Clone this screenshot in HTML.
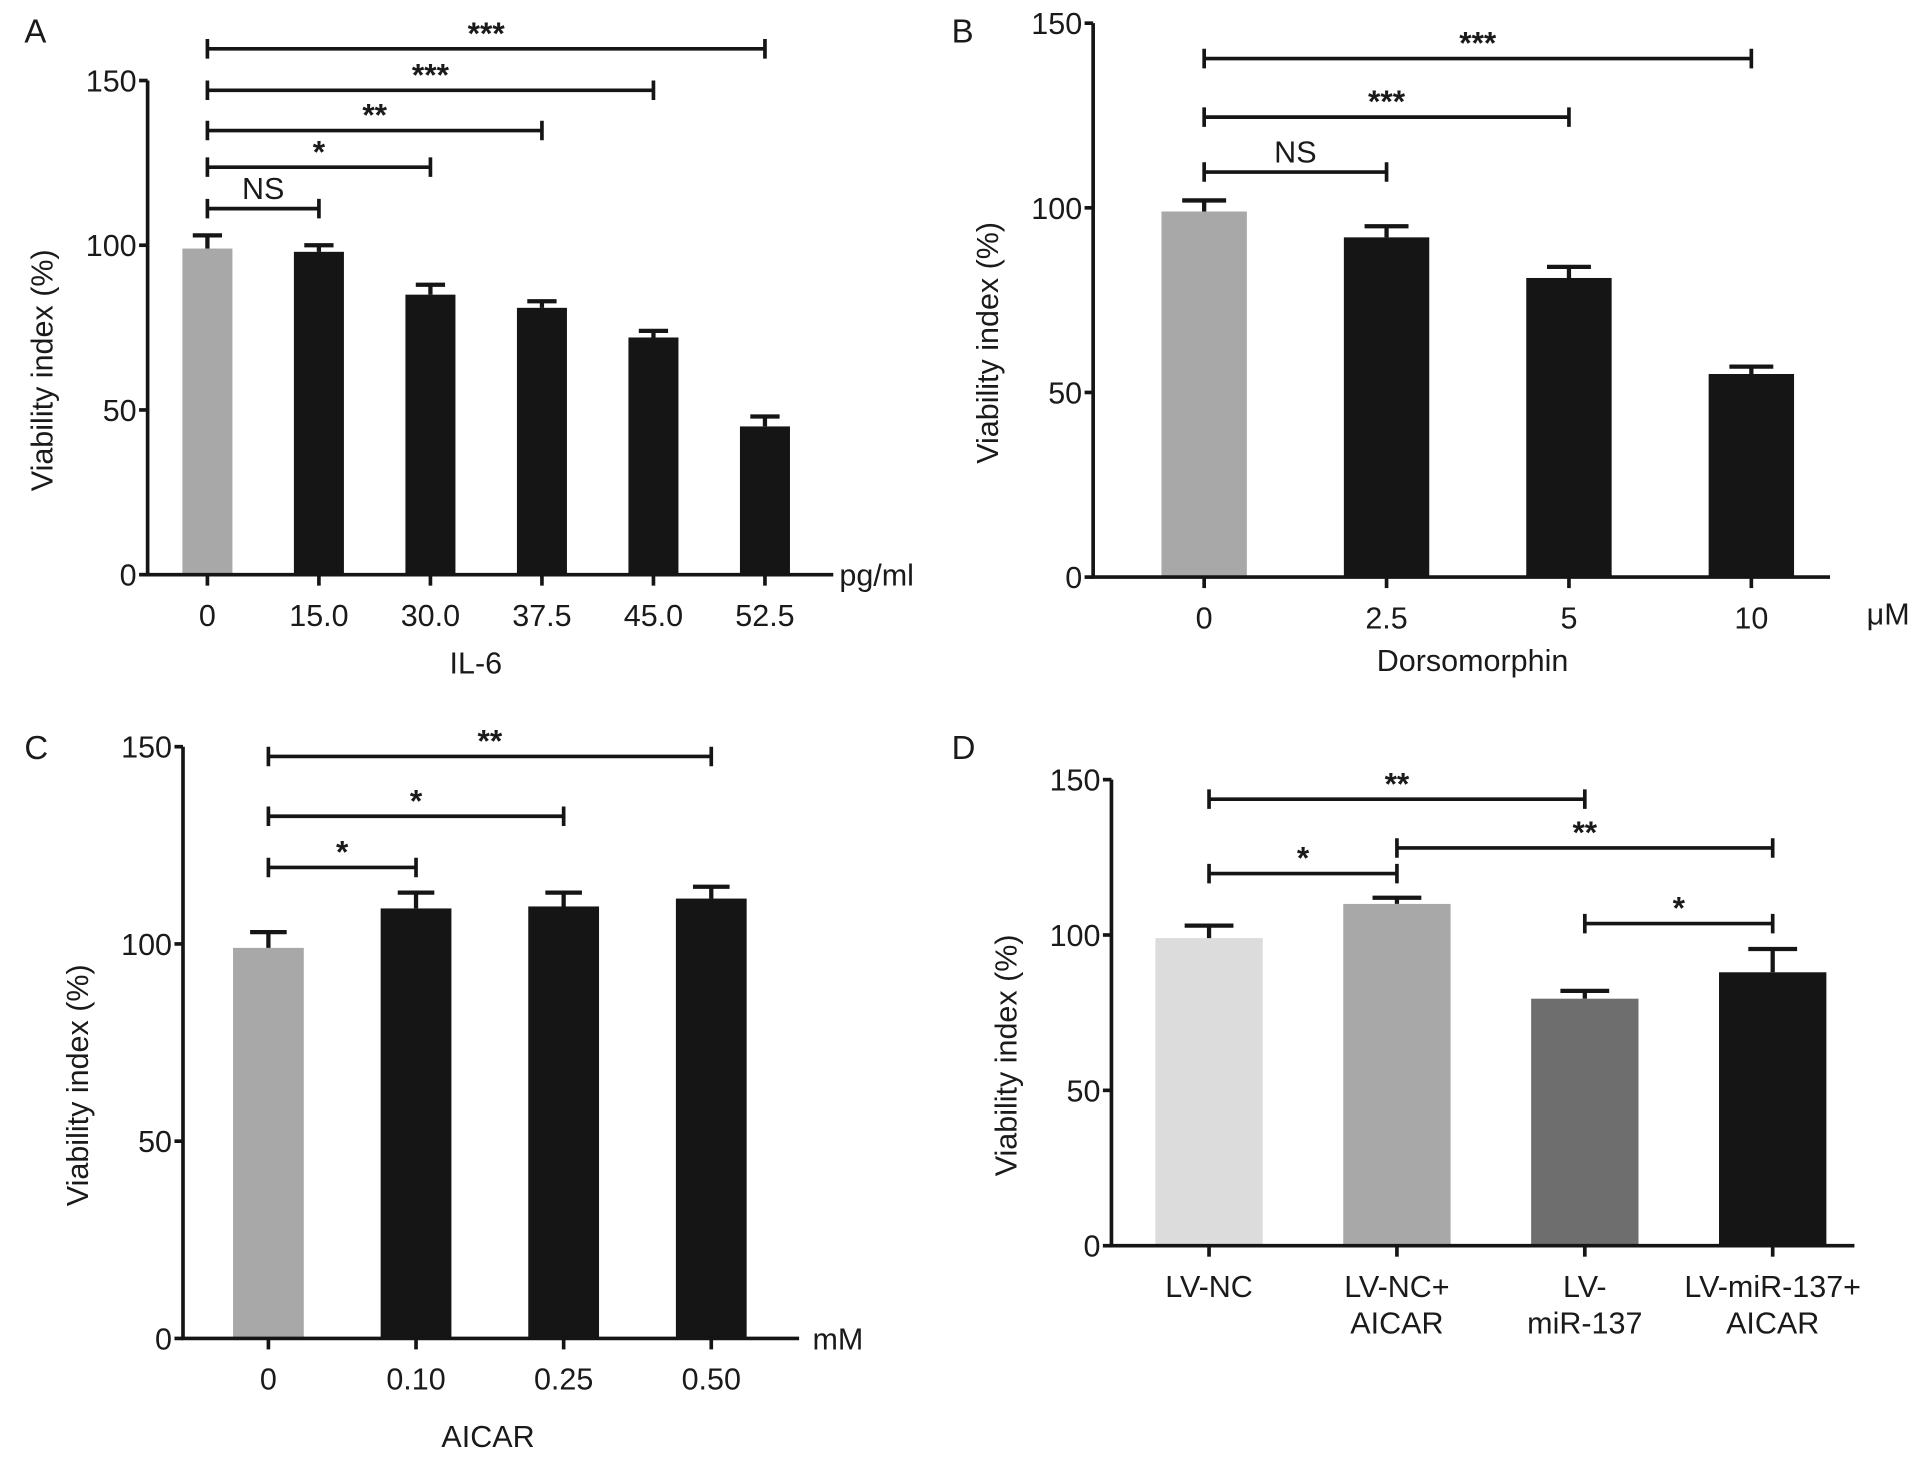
<!DOCTYPE html>
<html><head><meta charset="utf-8"><style>
html,body{margin:0;padding:0;background:#fff}
svg{display:block}
text{font-family:"Liberation Sans",sans-serif;fill:#1a1a1a}
</style></head><body>
<svg id="fig" width="1913" height="1458" viewBox="0 0 1568 1195" preserveAspectRatio="none" xmlns="http://www.w3.org/2000/svg"></svg>
<script>
// Panel A data
const aCategories = ["0","15.0","30.0","37.5","45.0","52.5"];
const aValues = [99,98,85,81,72,45];
const aErrors = [4,2,3,2,2,3];
// Panel B data
const bCategories = ["0","2.5","5","10"];
const bValues = [99,92,81,55];
const bErrors = [3,3,3,2];
// Panel C data
const cCategories = ["0","0.10","0.25","0.50"];
const cValues = [99,109,109.5,111.5];
const cErrors = [4,4,3.5,3];
// Panel D data
const dCategories = [["LV-NC"],["LV-NC+","AICAR"],["LV-","miR-137"],["LV-miR-137+","AICAR"]];
const dValues = [99,110,79.5,88];
const dErrors = [4,2,2.5,7.5];
const yTicks = [0,50,100,150];

const svg = document.getElementById('fig');
const NS = 'http://www.w3.org/2000/svg';
function mk(tag, attrs, parent){const e=document.createElementNS(NS,tag);for(const k in attrs)e.setAttribute(k,attrs[k]);(parent||svg).appendChild(e);return e;}

function panel(cfg){
  const g = mk('g',{});
  
  
  const y = v => cfg.y0 - (cfg.y0 - cfg.y150) * v / 150;
  const x = i => cfg.x0 + cfg.dx * i;
  const L = mk('text',{x:cfg.lx,y:cfg.ly,'font-size':27},g); L.textContent=cfg.id;
  
  
  cfg.vals.forEach((v,i)=>{
    const r = mk('rect',{x:x(i)-cfg.bw/2,y:y(v),width:cfg.bw,height:cfg.y0-y(v),fill:cfg.colors[i]},g);
    
    
    const top = y(v+cfg.errs[i]);
    const e = mk('path',{d:`M${x(i)} ${y(v)}V${top}M${x(i)-cfg.cap/2} ${top}H${x(i)+cfg.cap/2}`,stroke:'#151515','stroke-width':3.5,fill:'none'},g);
    
    
  });
  const ax = mk('path',{d:`M${cfg.ax} ${cfg.y150}V${cfg.y0}H${cfg.xend}`,stroke:'#151515','stroke-width':3,fill:'none'},g);
  
  
  yTicks.forEach(t=>{
    mk('path',{d:`M${cfg.ax-7} ${y(t)}H${cfg.ax}`,stroke:'#151515','stroke-width':3},g);
    const tx = mk('text',{x:cfg.ax-9,y:y(t)+9,'font-size':25,'text-anchor':'end'},g); tx.textContent=t;
    
    
  });
  cfg.cats.forEach((c,i)=>{
    mk('path',{d:`M${x(i)} ${cfg.y0}V${cfg.y0+9}`,stroke:'#151515','stroke-width':3},g);
    const lines = Array.isArray(c)?c:[c];
    lines.forEach((ln,j)=>{
      const tx = mk('text',{x:x(i),y:cfg.y0+42+j*30,'font-size':25,'text-anchor':'middle'},g); tx.textContent=ln;
      
      
    });
  });
  const yt = mk('text',{x:0,y:0,'font-size':25,'text-anchor':'middle',transform:`translate(${cfg.ax-78},${(cfg.y0+cfg.y150)/2+35}) rotate(-90)`},g);
  yt.textContent='Viability index (%)';
  
  
  if(cfg.unit){const u=mk('text',{x:cfg.unit[1],y:cfg.unit[2],'font-size':25},g);u.textContent=cfg.unit[0];
    
    }
  if(cfg.xt){const u=mk('text',{x:cfg.xt[1],y:cfg.xt[2],'font-size':25,'text-anchor':'middle'},g);u.textContent=cfg.xt[0];
    
    }
  cfg.brackets.forEach(b=>{
    const [i1,i2,yy,lab]=b;
    const p = mk('path',{d:`M${x(i1)} ${yy-8}V${yy+8}M${x(i1)} ${yy}H${x(i2)}M${x(i2)} ${yy-8}V${yy+8}`,stroke:'#151515','stroke-width':3,fill:'none'},g);
    
    
    const t = mk('text',{x:(x(i1)+x(i2))/2,y:yy-(lab==='NS'?8:4),'font-size':lab==='NS'?25:26,'font-weight':lab==='NS'?'normal':'bold','text-anchor':'middle'},g); t.textContent=lab;
    
    
  });
}
const gray='#a8a8a8', blk='#151515';
panel({id:'A',lx:20,ly:35,ax:121,y0:471,y150:66,x0:170,dx:91.4,bw:41,cap:24,xend:683,
  cats:aCategories,vals:aValues,errs:aErrors,colors:[gray,blk,blk,blk,blk,blk],
  unit:['pg/ml',688,480],xt:['IL-6',390,552],
  brackets:[[0,5,40,'***'],[0,4,74,'***'],[0,3,107,'**'],[0,2,137,'*'],[0,1,171,'NS']]});
panel({id:'B',lx:780,ly:35,ax:896,y0:473,y150:19,x0:987,dx:149.5,bw:70,cap:36,xend:1500,
  cats:bCategories,vals:bValues,errs:bErrors,colors:[gray,blk,blk,blk],
  unit:['μM',1530,512],xt:['Dorsomorphin',1207,550],
  brackets:[[0,3,48,'***'],[0,2,96,'***'],[0,1,141,'NS']]});
panel({id:'C',lx:20,ly:622,ax:150,y0:1097,y150:612,x0:220,dx:121,bw:58,cap:30,xend:655,
  cats:cCategories,vals:cValues,errs:cErrors,colors:[gray,blk,blk,blk],
  unit:['mM',666,1106],xt:['AICAR',400,1186],
  brackets:[[0,3,620,'**'],[0,2,669,'*'],[0,1,711,'*']]});
panel({id:'D',lx:780,ly:622,ax:911,y0:1021,y150:639,x0:991,dx:154,bw:88,cap:40,xend:1520,
  cats:dCategories,vals:dValues,errs:dErrors,colors:['#dcdcdc','#a8a8a8','#6e6e6e','#151515'],
  brackets:[[0,2,655,'**'],[1,3,695,'**'],[0,1,716,'*'],[2,3,757,'*']]});
</script>
</body></html>
